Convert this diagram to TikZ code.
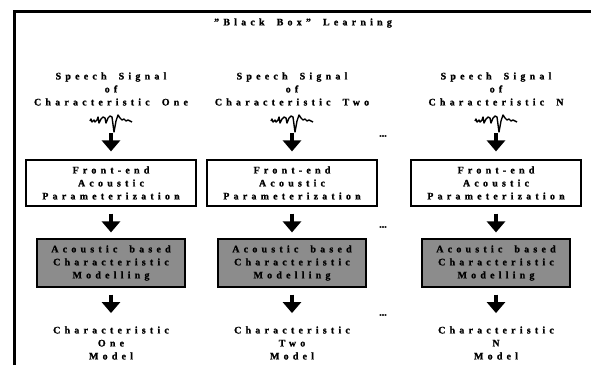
\documentclass[tikz,border=0pt]{standalone}
\usepackage{fontspec}
\setmainfont{Liberation Serif}[LetterSpace=42, WordSpace=1.8, BoldFeatures={FakeBold=1.2}]
\newfontfamily\dotsfont{Liberation Serif}[BoldFeatures={FakeBold=1.2}]
\usetikzlibrary{arrows.meta}

\definecolor{modelgray}{RGB}{140,140,140}

\begin{document}
\begin{tikzpicture}[x=1pt, y=-1pt, thick,
		every node/.style={font=\bfseries\fontsize{10}{13}\selectfont, align=center, inner sep=0pt},
		frontbox/.style={draw, line width=1.2pt, fill=white, minimum width=170pt, minimum height=46pt},
		modelbox/.style={draw, line width=1.2pt, fill=modelgray, minimum width=148pt, minimum height=48pt},
		wave/.style={minimum width=46pt, minimum height=24pt, path picture={
			\draw[line width=1.4pt, line join=round, shift={(path picture bounding box.center)}]
			plot coordinates {(-21,0) (-20,-2) (-19,1) (-17,-1) (-16,1) (-14,-1) (-13,-4) (-12,2)
				(-10,-2) (-8,-4) (-6,-3) (-5,2) (-3,-3) (-1,-5) (1,-4) (3,11) (5,0) (7,-6)
				(9,-3) (11,-1) (13,-2) (15,0) (17,-1) (19,0) (21,1)};}},
		dotsnode/.style={font=\dotsfont\bfseries\fontsize{10}{13}\selectfont},
		bigarrow/.style={line width=4pt, -{Triangle[width=18pt, length=11pt]}}]
	\useasboundingbox (0,0) rectangle (591,365);

	% Draw the frame
	\draw[line width=3pt] (14,365) -- (14,11) -- (591,11);

	\node (title) at (303,23) {\symbol{34}Black Box\symbol{34} Learning};

	% Draw the first column
	\node (sig1) at (111,89) {Speech Signal\\of\\Characteristic One};
	\node[wave] (w1) at (111,121) {};
	\node[frontbox] (fe1) at (111,183) {Front-end\\Acoustic\\Parameterization};
	\node[modelbox] (gm1) at (111,263) {Acoustic based\\Characteristic\\Modelling};
	\node (m1) at (111,343) {Characteristic\\One\\Model};

	\draw[bigarrow, shorten >=8pt] (w1) -- (fe1);
	\draw[bigarrow, shorten <=7pt, shorten >=6pt] (fe1) -- (gm1);
	\draw[bigarrow, shorten <=7pt, shorten >=13pt] (gm1) -- (m1);

	% Draw the second column
	\node (sig2) at (292,89) {Speech Signal\\of\\Characteristic Two};
	\node[wave] (w2) at (292,121) {};
	\node[frontbox] (fe2) at (292,183) {Front-end\\Acoustic\\Parameterization};
	\node[modelbox] (gm2) at (292,263) {Acoustic based\\Characteristic\\Modelling};
	\node (m2) at (292,343) {Characteristic\\Two\\Model};

	\draw[bigarrow, shorten >=8pt] (w2) -- (fe2);
	\draw[bigarrow, shorten <=7pt, shorten >=6pt] (fe2) -- (gm2);
	\draw[bigarrow, shorten <=7pt, shorten >=13pt] (gm2) -- (m2);

	% Draw the last column
	\node (sig3) at (496,89) {Speech Signal\\of\\Characteristic N};
	\node[wave] (w3) at (496,121) {};
	\node[frontbox] (fe3) at (496,183) {Front-end\\Acoustic\\Parameterization};
	\node[modelbox] (gm3) at (496,263) {Acoustic based\\Characteristic\\Modelling};
	\node (m3) at (496,343) {Characteristic\\N\\Model};

	\draw[bigarrow, shorten >=8pt] (w3) -- (fe3);
	\draw[bigarrow, shorten <=7pt, shorten >=6pt] (fe3) -- (gm3);
	\draw[bigarrow, shorten <=7pt, shorten >=13pt] (gm3) -- (m3);

	% Draw the dots between the columns
	\node[dotsnode] (dots1) at (383,136) {...};
	\node[dotsnode] (dots2) at (383,227) {...};
	\node[dotsnode] (dots3) at (383,315) {...};

\end{tikzpicture}
\end{document}
